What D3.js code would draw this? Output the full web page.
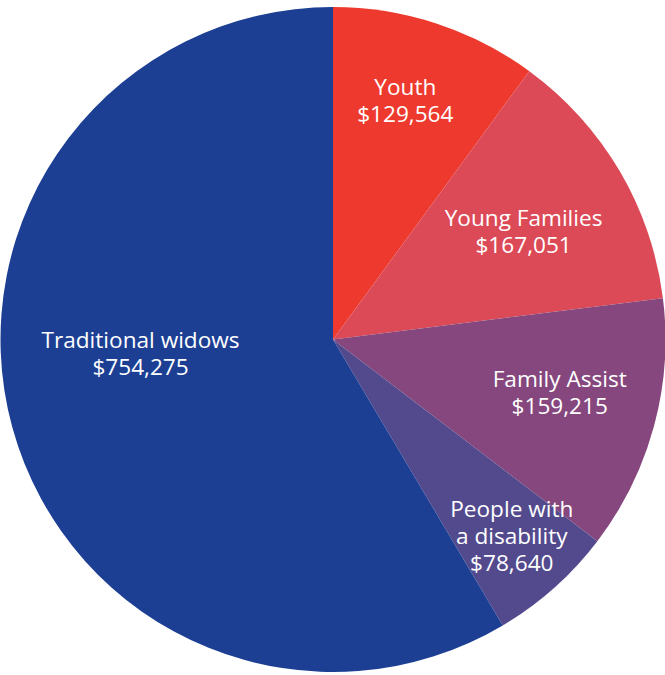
<!DOCTYPE html>
<html>
<head>
<meta charset="utf-8">
<script src="https://cdn.jsdelivr.net/npm/d3@7"></script>
<style>
  html, body { margin: 0; padding: 0; background: #ffffff; }
  svg { display: block; }
</style>
</head>
<body>
<svg id="chart" width="665" height="675"></svg>
<script>
// ---- Data ----
const categories = ["Youth", "Young Families", "Family Assist", "People with a disability", "Traditional widows"];
const labelLines = [["Youth"], ["Young Families"], ["Family Assist"], ["People with", "a disability"], ["Traditional widows"]];
const values = [129564, 167051, 159215, 78640, 754275];
const colors = ["#EE3A2E", "#DC4A57", "#85477D", "#534A8E", "#1C3F94"];

// ---- Layout ----
const width = 665, height = 675;
const cx = 333, cy = 339.5, R = 332.5;
const lineH = 27;
// label nudges relative to centroid at 0.7R
const labelNudge = [[0, -17], [-10, 11.5], [2, -7], [24, 24], [32, -47]];

const svg = d3.select("#chart");
const g = svg.append("g").attr("transform", `translate(${cx},${cy})`);

const data = categories.map((c, i) => ({ name: c, value: values[i], lines: labelLines[i], i }));

const pie = d3.pie().sort(null).value(d => d.value);
const arcs = pie(data);
const arc = d3.arc().innerRadius(0).outerRadius(R);
const labelArc = d3.arc().innerRadius(R * 0.7).outerRadius(R * 0.7);

g.selectAll("path.slice")
  .data(arcs)
  .join("path")
  .attr("class", "slice")
  .attr("d", arc)
  .attr("fill", d => colors[d.data.i]);

const fmt = d3.format("$,");

const labels = g.selectAll("text.label")
  .data(arcs)
  .join("text")
  .attr("class", "label")
  .attr("text-anchor", "middle")
  .attr("fill", "#ffffff")
  .style("font-family", "'Open Sans', 'Noto Sans', sans-serif")
  .style("font-size", "22.6px")
  .attr("transform", d => {
    const [x, y] = labelArc.centroid(d);
    const n = labelNudge[d.data.i];
    return `translate(${x + n[0]},${y + n[1]})`;
  });

labels.each(function(d) {
  const lines = d.data.lines.concat([fmt(d.data.value)]);
  const n = lines.length;
  const t = d3.select(this);
  lines.forEach((ln, k) => {
    t.append("tspan")
      .attr("x", 0)
      .attr("y", (k - (n - 1) / 2) * lineH + 7)
      .text(ln);
  });
});
</script>
</body>
</html>
